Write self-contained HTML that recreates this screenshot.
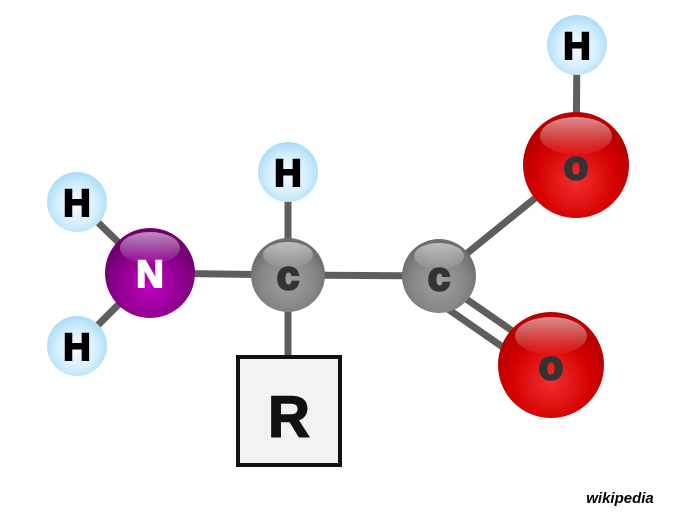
<!DOCTYPE html>
<html><head><style>html,body{margin:0;padding:0;background:#fff}</style></head>
<body>
<svg width="692" height="526" viewBox="0 0 692 526" xmlns="http://www.w3.org/2000/svg" font-family="Liberation Sans, sans-serif" font-weight="bold">
<defs>
<radialGradient id="gH" cx="50%" cy="55%" r="55%"><stop offset="0" stop-color="#f4fbff"/><stop offset="0.6" stop-color="#d6efff"/><stop offset="1" stop-color="#a9dcf7"/></radialGradient>
<radialGradient id="gC" cx="50%" cy="60%" r="55%"><stop offset="0" stop-color="#a0a0a0"/><stop offset="0.7" stop-color="#858585"/><stop offset="1" stop-color="#6e6e6e"/></radialGradient>
<radialGradient id="gN" cx="50%" cy="65%" r="55%"><stop offset="0" stop-color="#c000c0"/><stop offset="0.7" stop-color="#8c008c"/><stop offset="1" stop-color="#700070"/></radialGradient>
<radialGradient id="gO" cx="50%" cy="65%" r="55%"><stop offset="0" stop-color="#f03030"/><stop offset="0.7" stop-color="#d40000"/><stop offset="1" stop-color="#b80000"/></radialGradient>
<linearGradient id="hl" x1="0" y1="0" x2="0" y2="1"><stop offset="0" stop-color="#fff" stop-opacity="0.55"/><stop offset="1" stop-color="#fff" stop-opacity="0.02"/></linearGradient>
</defs>
<g stroke="#5e5e5e" stroke-width="7">
<line x1="77" y1="202" x2="150" y2="273"/>
<line x1="77" y1="346" x2="150" y2="273"/>
<line x1="150" y1="273" x2="288" y2="275"/>
<line x1="288" y1="172" x2="288" y2="360"/>
<line x1="288" y1="275" x2="439" y2="276"/>
<line x1="439" y1="276" x2="576" y2="165"/>
<line x1="577" y1="45" x2="576" y2="165"/>
<line x1="446" y1="285" x2="547" y2="355"/>
<line x1="432" y1="298" x2="533" y2="368"/>
</g>
<rect x="238" y="357" width="102" height="108" fill="#f2f2f2" stroke="#111" stroke-width="4"/>
<text x="289" y="437" font-size="58" text-anchor="middle" fill="#111" stroke="#111" stroke-width="1.5">R</text>
<g>
<circle cx="77" cy="202" r="30" fill="url(#gH)"/>
<circle cx="77" cy="346" r="30" fill="url(#gH)"/>
<circle cx="288" cy="172" r="30" fill="url(#gH)"/>
<circle cx="577" cy="45" r="30" fill="url(#gH)"/>
<circle cx="150" cy="273" r="45" fill="url(#gN)"/>
<ellipse cx="150" cy="248" rx="30" ry="16" fill="url(#hl)"/>
<circle cx="288" cy="275" r="37" fill="url(#gC)"/>
<ellipse cx="288" cy="255" rx="25" ry="13" fill="url(#hl)"/>
<circle cx="439" cy="276" r="37" fill="url(#gC)"/>
<ellipse cx="439" cy="256" rx="25" ry="13" fill="url(#hl)"/>
<circle cx="576" cy="165" r="53" fill="url(#gO)"/>
<ellipse cx="576" cy="136" rx="36" ry="19" fill="url(#hl)"/>
<circle cx="551" cy="365" r="53" fill="url(#gO)"/>
<ellipse cx="551" cy="336" rx="36" ry="19" fill="url(#hl)"/>
</g>
<g font-size="38" text-anchor="middle" fill="#000" stroke="#000" stroke-width="2">
<text x="77" y="216">H</text>
<text x="77" y="360">H</text>
<text x="288" y="186">H</text>
<text x="577" y="59">H</text>
<text x="150" y="287" fill="#fff" stroke="#fff">N</text>
</g>
<g font-size="40" text-anchor="middle" fill="#333" stroke="#333" stroke-width="2.5">
<text x="288" y="289">c</text>
<text x="439" y="290">c</text>
<text x="576" y="179">o</text>
<text x="551" y="379">o</text>
</g>
<text x="620" y="503" font-size="15" font-style="italic" text-anchor="middle" fill="#000">wikipedia</text>
</svg>
</body></html>
